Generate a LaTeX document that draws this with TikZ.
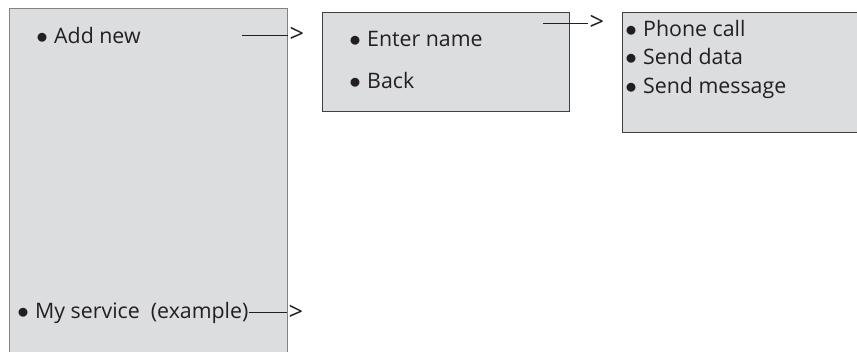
\documentclass[tikz,border=0pt]{standalone}
\usepackage{fontspec}
\setmainfont{Open Sans}
\usetikzlibrary{positioning}
\definecolor{menugray}{RGB}{220,221,223}
\definecolor{menuline}{RGB}{64,64,66}
\definecolor{menutext}{RGB}{35,31,32}
\newcommand{\mitem}{$\bullet$\hspace{0.3em}}

\begin{document}
\begin{tikzpicture}[x=0.75pt, y=-0.75pt,
  menu/.style={rectangle, draw=menuline, fill=menugray, line width=1.1pt,
               anchor=north west, inner sep=0pt},
  item/.style={anchor=base west, inner sep=0pt, text=menutext,
               font=\fontsize{16}{19}\selectfont},
  conn/.style={line width=0.75pt, menutext},
  gt/.style={anchor=west, inner sep=0pt, xshift=0.8pt, text=menutext,
             font=\fontsize{19}{22}\selectfont}]

\clip (0,0) rectangle (857,351);

% the three menus
\node[menu, draw=menuline!65, minimum width=208.5pt, minimum height=280pt] (mainmenu) at (9,8) {};
\node[menu, minimum width=185.25pt, minimum height=74.25pt] (namemenu) at (322,12) {};
\node[menu, minimum width=190pt, minimum height=90pt] (sendmenu) at (622,12) {};

% menu entries
\node[item] (addnew) at (36,43) {\mitem Add new};
\node[item] (myserv) at (17,318) {\mitem My service~~(example)};
\node[item] (entername) at (349,46) {\mitem Enter name};
\node[item] (back) at (349,88) {\mitem Back};
\node[item] (phone) at (625,36) {\mitem Phone call};
\node[item] (senddata) at (625,64.5) {\mitem Send data};
\node[item] (sendmsg) at (625,93) {\mitem Send message};

% connectors
\coordinate (addfrom) at (242,35);
\coordinate (addto) at (288,35);
\coordinate (namefrom) at (543,23);
\coordinate (nameto) at (588,23);
\coordinate (servto) at (287,314);

\draw[conn] (addfrom) -- (addto) node[gt] {>};
\draw[conn] (namefrom) -- (nameto) node[gt] {>};
\draw[conn] (myserv.east) -- (myserv.east -| servto) node[gt] {>};
\end{tikzpicture}
\end{document}
